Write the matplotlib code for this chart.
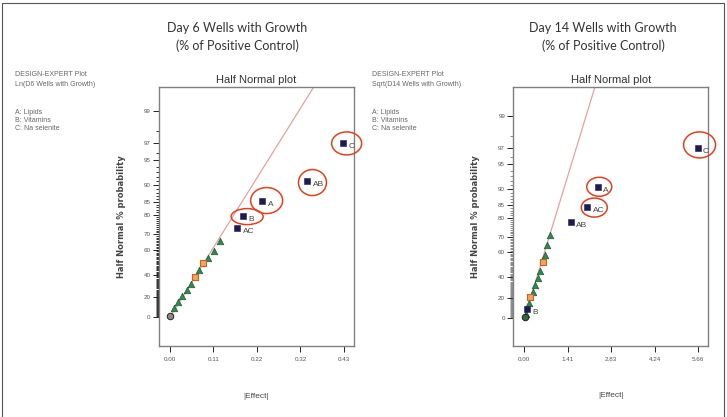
from statistics import NormalDist

import numpy as np
import matplotlib
matplotlib.use("Agg")
import matplotlib.pyplot as plt
from matplotlib.patches import Ellipse

# ---- Day 6 panel: |Effect| vs half normal % probability ----
d6_sig_labels = ["C", "AB", "A", "B", "AC"]
d6_sig_effect = [0.427, 0.340, 0.228, 0.181, 0.166]
d6_sig_prob = [97.0, 91.2, 85.3, 79.4, 73.5]
d6_tri_effect = [0.124, 0.109, 0.095, 0.072, 0.052, 0.041, 0.031, 0.021, 0.010]
d6_tri_prob = [66.0, 59.0, 54.0, 44.0, 32.4, 26.5, 20.5, 14.7, 8.8]
d6_org_effect = [0.082, 0.063]
d6_org_prob = [50.0, 38.2]
d6_circ_effect = [0.0]
d6_circ_prob = [1.0]
d6_line_effect = [0.0, 0.356]
d6_line_prob = [0.0, 99.6]
d6_circled = ["C", "AB", "A", "B"]
d6_xticks = [0.0, 0.1075, 0.215, 0.3225, 0.43]
d6_xticklabels = ["0.00", "0.11", "0.22", "0.32", "0.43"]

# ---- Day 14 panel ----
d14_sig_labels = ["C", "A", "AC", "AB", "B"]
d14_sig_effect = [5.64, 2.39, 2.05, 1.51, 0.09]
d14_sig_prob = [97.0, 90.6, 84.4, 78.0, 9.1]
d14_tri_effect = [0.836, 0.74, 0.66, 0.51, 0.435, 0.36, 0.27, 0.16, 0.05]
d14_tri_prob = [71.1, 64.8, 58.0, 45.5, 39.2, 32.5, 26.5, 15.0, 4.5]
d14_org_effect = [0.61, 0.20]
d14_org_prob = [52.4, 21.4]
d14_circ_effect = [0.02]
d14_circ_prob = [1.0]
d14_line_effect = [0.0, 2.30]
d14_line_prob = [0.0, 99.68]
d14_circled = ["C", "A", "AC"]
d14_xticks = [0.0, 1.415, 2.83, 4.245, 5.66]
d14_xticklabels = ["0.00", "1.41", "2.83", "4.24", "5.66"]

prob_ticks = [0, 20, 40, 60, 70, 80, 85, 90, 95, 97, 99]

ND = NormalDist()
NARROW = ["Liberation Sans Narrow", "Liberation Sans", "DejaVu Sans"]


def _fwd(p):
    p = float(p)
    a = min(abs(p), 99.99999)
    return np.sign(p) * ND.inv_cdf(0.5 + a / 200.0)


def _inv(z):
    z = float(z)
    return np.sign(z) * (ND.cdf(abs(z)) - 0.5) * 200.0


fwd = np.vectorize(_fwd, otypes=[float])
inv = np.vectorize(_inv, otypes=[float])


def draw_panel(fig, rect, d, zlim, xlim):
    ax = fig.add_axes(rect)
    ax.set_yscale("function", functions=(fwd, inv))
    ax.set_xlim(*xlim)
    ax.set_ylim(_inv(zlim[0]), _inv(zlim[1]))

    ax.plot(d["line_e"], d["line_p"], color="#e8a0a0", lw=0.9, zorder=1)
    ax.scatter(d["tri_e"], d["tri_p"], marker="^", s=22, c="#2e8b4e",
               edgecolors="#1e5a32", linewidths=0.5, zorder=3)
    ax.scatter(d["org_e"], d["org_p"], marker="s", s=18, c="#f2a65a",
               edgecolors="#c8602a", linewidths=0.8, zorder=3)
    ax.scatter(d["circ_e"], d["circ_p"], marker="o", s=22, c=d["circ_c"],
               edgecolors="#222222", linewidths=0.7, zorder=3)
    ax.scatter(d["sig_e"], d["sig_p"], marker="s", s=14, c="#1c1c52",
               edgecolors="#1c1c52", linewidths=0.4, zorder=4)
    for lab, e, p in zip(d["sig_l"], d["sig_e"], d["sig_p"]):
        ax.annotate(lab, (e, p), xytext=(4, -2.5), textcoords="offset points",
                    fontsize=6, color="#444444", ha="left", va="center",
                    family=NARROW)

    ax.set_xticks(d["xticks"])
    ax.set_xticklabels(d["xticklabels"])
    ax.set_yticks(prob_ticks)
    ax.set_yticklabels([str(t) for t in prob_ticks])
    ax.set_yticks([v for v in range(1, 99) if v not in prob_ticks], minor=True)
    ax.xaxis.set_minor_locator(matplotlib.ticker.NullLocator())
    ax.tick_params(axis="y", which="major", length=4, width=0.6, pad=2,
                   labelsize=4.5, labelcolor="#555555")
    ax.tick_params(axis="y", which="minor", length=2.5, width=0.6,
                   color=d["minor_c"])
    ax.tick_params(axis="x", which="major", length=4, width=0.6, pad=4,
                   labelsize=4.5, labelcolor="#555555")
    for t in ax.get_xticklabels() + ax.get_yticklabels():
        t.set_family(NARROW)
    for s in ax.spines.values():
        s.set_color("#808080")
        s.set_linewidth(1.0)

    ax.set_title("Half Normal plot", fontsize=8, color="#333333", pad=3,
                 family=NARROW)
    ax.set_xlabel("|Effect|", fontsize=6, color="#444444", labelpad=22,
                  family=NARROW)
    ax.set_ylabel("Half Normal % probability", fontsize=6, fontweight="bold",
                  color="#444444", labelpad=13)

    # red circles drawn around the significant effects (figure pixels)
    fig.canvas.draw()
    W, H = fig.bbox.width, fig.bbox.height
    for lab, (dx, dy, w, h) in d["circles"].items():
        i = d["sig_l"].index(lab)
        px, py = ax.transData.transform((d["sig_e"][i], d["sig_p"][i]))
        cx, cy = (px + dx) / W, (py - dy) / H
        fig.add_artist(Ellipse((cx, cy), w / W, h / H, transform=fig.transFigure,
                               fill=False, edgecolor="#e2401e", lw=1.1,
                               zorder=10))
    return ax


def main():
    fig = plt.figure(figsize=(7.27, 4.17), dpi=100)

    # outer frame
    fig.add_artist(plt.Line2D([0.003, 0.003, 0.996, 0.996],
                              [0.0, 0.994, 0.994, 0.0],
                              transform=fig.transFigure, color="#555555",
                              lw=0.8))

    d6 = dict(sig_l=d6_sig_labels, sig_e=d6_sig_effect, sig_p=d6_sig_prob,
              tri_e=d6_tri_effect, tri_p=d6_tri_prob,
              org_e=d6_org_effect, org_p=d6_org_prob,
              circ_e=d6_circ_effect, circ_p=d6_circ_prob, circ_c="#8a8a8a",
              line_e=d6_line_effect, line_p=d6_line_prob,
              xticks=d6_xticks, xticklabels=d6_xticklabels, minor_c="#111111",
              circles={"C": (4, 0, 30, 23), "AB": (5, 2, 28, 26),
                       "A": (4.5, -0.5, 32, 26), "B": (4, 0.7, 32, 16)})
    d14 = dict(sig_l=d14_sig_labels, sig_e=d14_sig_effect, sig_p=d14_sig_prob,
               tri_e=d14_tri_effect, tri_p=d14_tri_prob,
               org_e=d14_org_effect, org_p=d14_org_prob,
               circ_e=d14_circ_effect, circ_p=d14_circ_prob, circ_c="#2e6b3e",
               line_e=d14_line_effect, line_p=d14_line_prob,
               xticks=d14_xticks, xticklabels=d14_xticklabels, minor_c="#777777",
               circles={"C": (2, -3, 32, 26), "A": (1.5, 0, 25, 19),
                        "AC": (7, 0.7, 26, 19)})

    draw_panel(fig, [0.2187, 0.1703, 0.2682, 0.6211], d6, (-0.36, 2.875),
               (-0.027, 0.455))
    draw_panel(fig, [0.7061, 0.171, 0.2682, 0.6211], d14, (-0.35, 2.95),
               (-0.358, 5.99))

    # panel headings
    for x, txt in [(237 / 727, "Day 6 Wells with Growth\n(% of Positive Control)"),
                   (603 / 727, "Day 14 Wells with Growth\n(% of Positive Control)")]:
        fig.text(x, 1 - 37 / 417, txt, ha="center", va="center", fontsize=9,
                 color="#333333", family=["Lato", "DejaVu Sans"],
                 linespacing=1.55)

    # Design-Expert side notes
    notes = [("Ln(D6 Wells with Growth)", 15), ("Sqrt(D14 Wells with Growth)", 372)]
    for resp, xpx in notes:
        x = xpx / 727
        for txt, ypx in [("DESIGN-EXPERT Plot", 75), (resp, 85),
                         ("A: Lipids", 112), ("B: Vitamins", 120),
                         ("C: Na selenite", 128)]:
            fig.text(x, 1 - ypx / 417, txt, ha="left", va="center", fontsize=5,
                     color="#666666", family=NARROW)

    fig.savefig("out.png", dpi=100)


if __name__ == "__main__":
    main()
